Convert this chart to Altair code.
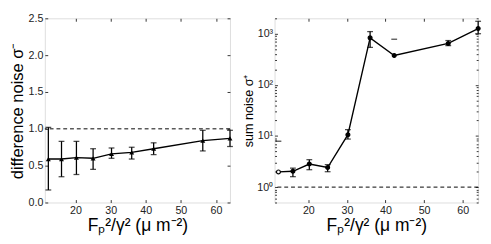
import altair as alt
import pandas as pd

# ---- data ----
x_vals = [12.25, 16, 20.25, 25, 30.25, 36, 42.25, 56.25, 64]
diff_mean = [0.59, 0.59, 0.61, 0.60, 0.66, 0.68, 0.73, 0.84, 0.87]
diff_low = [0.17, 0.35, 0.38, 0.45, 0.60, 0.59, 0.65, 0.70, 0.76]
diff_high = [1.02, 0.83, 0.83, 0.73, 0.74, 0.75, 0.81, 0.98, 0.98]
sum_mean = [1.98, 2.04, 2.83, 2.42, 10.6, 830, 375, 645, 1260]
sum_low = [None, 1.6, 2.19, 2.0, 8.7, 540, None, 585, 1000]
sum_high = [None, 2.35, 3.44, 2.75, 13.3, 1100, None, 735, 1750]
orphan_cap_x = [12.25, 42.25]
orphan_cap_y = [7.9, 780]
x_ticks = [20, 30, 40, 50, 60]
diff_ticks = [0, 0.5, 1, 1.5, 2, 2.5]
sum_ticks = [1, 10, 100, 1000]
sum_minor_ticks = [m * d for d in [0.1, 1, 10, 100, 1000] for m in range(2, 10)]
reference_level = [1]

x_domain = [11.25, 64]
FONT = "Liberation Sans"
X_TITLE_LEFT = "Fₚ²/γ²  (μ m⁻²)"
X_TITLE_RIGHT = "Fₚ²/γ² (μ m⁻²)"

diff_df = pd.DataFrame({"x": x_vals, "y": diff_mean, "lo": diff_low, "hi": diff_high})
sum_df = pd.DataFrame({"x": x_vals, "y": sum_mean, "lo": sum_low, "hi": sum_high})
orphan_df = pd.DataFrame({"x": orphan_cap_x, "cap": orphan_cap_y})
ref_df = pd.DataFrame({"level": reference_level})


def tick_axis(orient, values, size=3):
    return alt.Axis(orient=orient, values=values, labels=False, title=None, domain=False,
                    grid=False, ticks=True, tickSize=size, offset=-size, tickColor="#333")


def panel(df, yscale, yticks, ytitle, ytitle_size, ylabel_expr, marker, width, height,
          xtitle, minor=None, orphans=None):
    xs = alt.Scale(domain=x_domain, nice=False, zero=False)
    x_main = alt.X("x:Q", scale=xs, axis=alt.Axis(
        orient="bottom", values=x_ticks, title=xtitle, titleFontSize=18, titleFont=FONT,
        titleFontWeight="normal", titleColor="black", titlePadding=2,
        labelFont=FONT, labelFontSize=11, labelColor="#222", labelPadding=2,
        domain=False, grid=False, tickSize=3, offset=-3, tickColor="#333"))
    y_axis = alt.Axis(
        orient="left", values=yticks, title=ytitle, titleFontSize=ytitle_size, titleFont=FONT,
        titleFontWeight="normal", titleColor="black", titlePadding=2,
        labelFont=FONT, labelFontSize=11, labelColor="#222", labelPadding=2,
        domain=False, grid=False, tickSize=3, offset=-3, tickColor="#333")
    if ylabel_expr:
        y_axis.labelExpr = ylabel_expr
    y_main = alt.Y("y:Q", scale=yscale, axis=y_axis)
    xn = alt.X("x:Q", scale=xs, axis=None)

    base = alt.Chart(df)
    layers = []
    layers.append(alt.Chart(ref_df).mark_rule(color="black", strokeWidth=1, strokeDash=[4, 3])
                  .encode(y=alt.Y("level:Q", scale=yscale, axis=None)))
    errs = base.transform_filter("isValid(datum.lo)")
    layers.append(errs.mark_rule(color="black", strokeWidth=1.3).encode(
        x=xn, y=alt.Y("lo:Q", scale=yscale, axis=None), y2="hi:Q"))
    layers.append(errs.mark_tick(orient="horizontal", color="black", size=6, thickness=1.3).encode(
        x=xn, y=alt.Y("lo:Q", scale=yscale, axis=None)))
    layers.append(errs.mark_tick(orient="horizontal", color="black", size=6, thickness=1.3).encode(
        x=xn, y=alt.Y("hi:Q", scale=yscale, axis=None)))
    if orphans is not None:
        layers.append(alt.Chart(orphans).mark_tick(orient="horizontal", color="black", size=6,
                                                   thickness=1.3).encode(
            x=xn, y=alt.Y("cap:Q", scale=yscale, axis=None)))
    layers.append(base.mark_line(color="black", strokeWidth=1.4).encode(x=x_main, y=y_main))
    if marker == "triangle":
        layers.append(base.mark_point(shape="triangle-up", filled=True, color="black", size=26,
                                      opacity=1).encode(x=xn, y=alt.Y("y:Q", scale=yscale, axis=None)))
    else:
        layers.append(base.transform_window(idx="row_number()").mark_point(
            shape="circle", color="black", size=16, opacity=1, strokeWidth=1.2).encode(
            x=xn, y=alt.Y("y:Q", scale=yscale, axis=None),
            fill=alt.condition("datum.idx == 1", alt.value("white"), alt.value("black"))))
    # mirrored inward ticks on top/right (MATLAB box style)
    layers.append(base.mark_point(opacity=0).encode(
        x=alt.X("x:Q", scale=xs, axis=tick_axis("top", x_ticks)),
        y=alt.Y("y:Q", scale=yscale, axis=tick_axis("right", yticks))))
    if minor is not None:
        layers.append(base.mark_point(opacity=0).encode(
            x=xn, y=alt.Y("y:Q", scale=yscale, axis=tick_axis("left", minor, 2))))
        layers.append(base.mark_point(opacity=0).encode(
            x=xn, y=alt.Y("y:Q", scale=yscale, axis=tick_axis("right", minor, 2))))
    return alt.layer(*layers).resolve_axis(x="independent", y="independent").properties(
        width=width, height=height)


left = panel(diff_df, alt.Scale(domain=[0, 2.5], nice=False, zero=False), diff_ticks,
             "difference noise σ⁻", 17, None, "triangle", 191, 190, X_TITLE_LEFT)

sup_expr = ("datum.value == 1 ? '10⁰' : datum.value == 10 ? '10¹' : "
            "datum.value == 100 ? '10²' : '10³'")
right = panel(sum_df, alt.Scale(type="log", domain=[0.5, 2000], nice=False), sum_ticks,
              "sum noise σ⁺", 13, sup_expr, "circle", 210, 190, X_TITLE_RIGHT,
              minor=sum_minor_ticks, orphans=orphan_df)

chart = alt.hconcat(left, right, spacing=8).properties(padding=0).configure_view(
    stroke="#333", strokeWidth=1).configure(background="white")

chart.save("out.html", embed_options={"renderer": "svg", "actions": False})
